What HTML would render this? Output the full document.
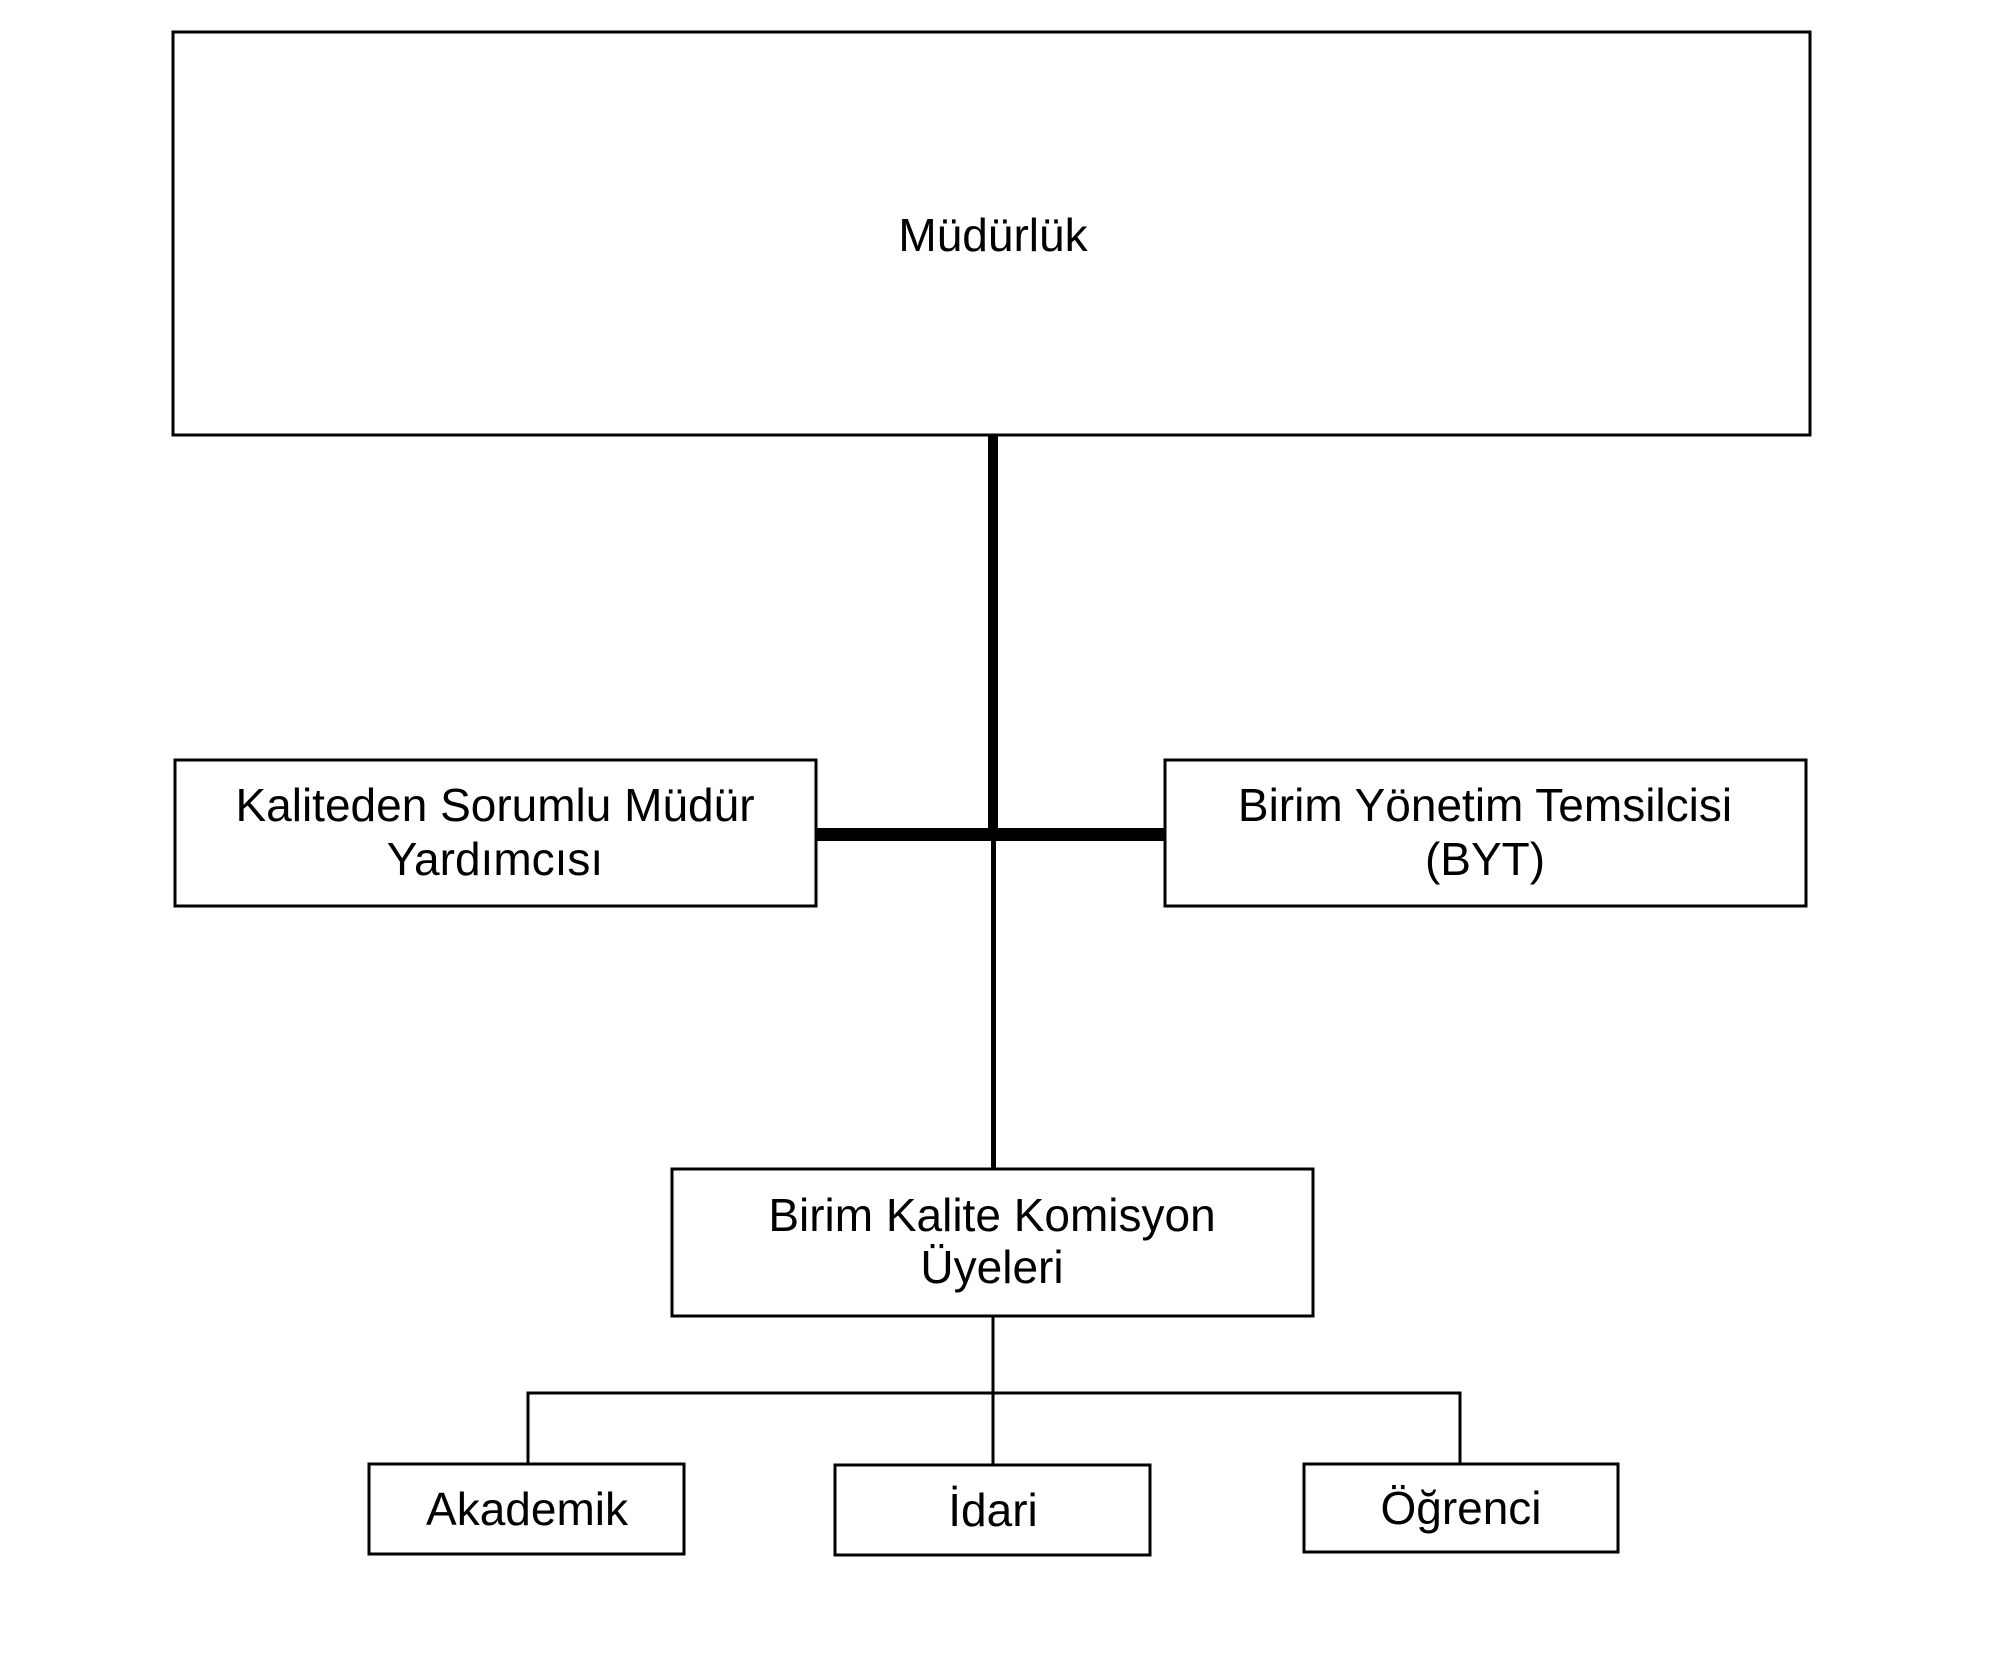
<!DOCTYPE html>
<html><head><meta charset="utf-8"><style>
body{margin:0;background:#fff;width:1990px;height:1656px;overflow:hidden}
</style></head><body>
<svg width="1990" height="1656" xmlns="http://www.w3.org/2000/svg" font-family="Liberation Sans, sans-serif" font-size="46" text-anchor="middle">
<g fill="none" stroke="#000" stroke-width="3">
<rect x="173" y="32" width="1637" height="403"/>
<rect x="175" y="760" width="641" height="146"/>
<rect x="1165" y="760" width="641" height="146"/>
<rect x="672" y="1169" width="641" height="147"/>
<rect x="369" y="1464" width="315" height="90"/>
<rect x="835" y="1465" width="315" height="90"/>
<rect x="1304" y="1464" width="314" height="88"/>
<path d="M993 1316V1465M528 1464V1393H1460V1464"/>
</g>
<rect x="988" y="435" width="10" height="399" fill="#000"/>
<rect x="991" y="834" width="5" height="335" fill="#000"/>
<rect x="816" y="828" width="349" height="13" fill="#000"/>
<text x="993" y="251">Müdürlük</text>
<text x="495" y="821">Kaliteden Sorumlu Müdür</text>
<text x="495" y="875">Yardımcısı</text>
<text x="1485" y="821">Birim Yönetim Temsilcisi</text>
<text x="1485" y="875">(BYT)</text>
<text x="992" y="1231">Birim Kalite Komisyon</text>
<text x="992" y="1283">Üyeleri</text>
<text x="527" y="1525">Akademik</text>
<text x="993" y="1526">İdari</text>
<text x="1461" y="1524">Öğrenci</text>
</svg>
</body></html>
